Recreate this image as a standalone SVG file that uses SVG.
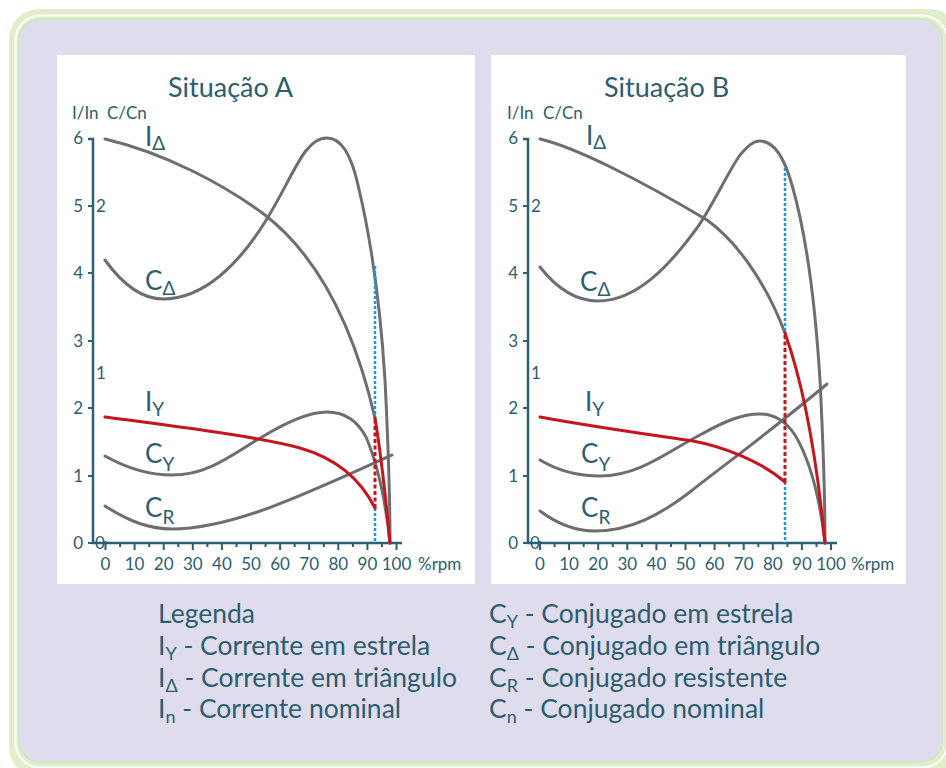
<svg xmlns="http://www.w3.org/2000/svg" width="946" height="768" viewBox="0 0 946 768">
<style>
text{font-family:Lato,"Noto Sans","Open Sans",sans-serif;fill:#2c5e70}
.ax{fill:none;stroke:#2b6075;stroke-width:2.5}
.tk{fill:none;stroke:#2b6075;stroke-width:2}
.num{font-size:17px}
.numr{font-size:17px;text-anchor:end}
.numc{font-size:17px;text-anchor:middle}
.title{font-size:27px}
.lbl{font-size:26px}
.sub{font-size:19px}
.lg{font-size:26.5px}
.lsub{font-size:18px}
.g{fill:none;stroke:#6e6e70;stroke-width:3;stroke-linecap:round}
.r{fill:none;stroke:#c4161c;stroke-width:3;stroke-linecap:round}
.rd{fill:none;stroke:#c4161c;stroke-width:3;stroke-dasharray:4 2.5}
.bd{fill:none;stroke:#1b9ad8;stroke-width:2.5;stroke-dasharray:3 2}
</style>
<g id="frame">
<rect x="9" y="9" width="950" height="768" rx="30" fill="#e1edcb"/>
<rect x="15.5" y="15.5" width="932" height="752" rx="25" fill="none" stroke="#ffffff" stroke-width="2"/>
<rect x="19" y="19" width="923" height="743" rx="21" fill="#dfdcee" stroke="#d3e6bd" stroke-width="2"/>
</g>
<g id="panelA">
<rect x="57" y="55" width="418" height="529" fill="#ffffff"/>
<text class="title" x="168" y="97">Situação A</text>
<text class="num" x="72" y="119">I/In</text>
<text class="num" x="107" y="119">C/Cn</text>
<path class="ax" d="M88,139H93V543H402"/>
<path class="tk" d="M88,206H93M88,273H93M88,341H93M88,408H93M88,476H93M88,543H93"/>
<path class="tk" d="M105.5,541V550M134.6,543V550M163.7,543V550M192.8,543V550M221.9,543V550M251,543V550M280.1,543V550M309.2,543V550M338.3,543V550M367.4,543V550M396.5,543V550"/>
<path class="tk" d="M120.1,543V547M149.2,543V547M178.3,543V547M207.4,543V547M236.5,543V547M265.6,543V547M294.7,543V547M323.8,543V547M352.9,543V547M382,543V547"/>
<text class="numr" x="83" y="144">6</text>
<text class="numr" x="83" y="212">5</text>
<text class="numr" x="83" y="279">4</text>
<text class="numr" x="83" y="347">3</text>
<text class="numr" x="83" y="414">2</text>
<text class="numr" x="83" y="482">1</text>
<text class="numr" x="83" y="549">0</text>
<text class="num" x="96" y="212">2</text>
<text class="num" x="96" y="379">1</text>
<text class="num" x="95" y="549">0</text>
<text class="numc" x="105.5" y="570">0</text>
<text class="numc" x="134.6" y="570">10</text>
<text class="numc" x="163.7" y="570">20</text>
<text class="numc" x="192.8" y="570">30</text>
<text class="numc" x="221.9" y="570">40</text>
<text class="numc" x="251" y="570">50</text>
<text class="numc" x="280.1" y="570">60</text>
<text class="numc" x="309.2" y="570">70</text>
<text class="numc" x="338.3" y="570">80</text>
<text class="numc" x="367.4" y="570">90</text>
<text class="numc" x="396.5" y="570">100</text>
<text class="num" x="418" y="570">%rpm</text>
<path class="g" d="M105,260C123,285 143,299 163,299C205,299 240,262 265,222C282,195 295,165 305,152C313,142 319,138 327,138C342,138 352,158 358,185C370,235 380,300 385,380C388,440 390,500 390,543"/>
<path class="g" d="M105,139C165,153 225,185 265,215C310,250 350,310 375,418"/>
<path class="g" d="M105,456C130,470 150,475 172,475C210,475 235,452 262,437C290,420 310,412 327,412C345,412 358,422 366,437C378,465 386,505 390,543"/>
<path class="g" d="M105,506C130,522 150,529 172,529C230,529 300,497 392,455"/>
<path class="bd" d="M375,266V418M375,508V543"/>
<path class="rd" d="M375,508V418"/>
<path class="r" d="M105,417C180,427 260,437 300,448C335,458 360,478 375,508"/>
<path class="r" d="M375,418C381,455 386,500 390,543"/>
<text class="lbl" x="145" y="146">I<tspan class="sub" dy="4">Δ</tspan></text>
<text class="lbl" x="145" y="290">C<tspan class="sub" dy="5">Δ</tspan></text>
<text class="lbl" x="145" y="411">I<tspan class="sub" dy="5">Y</tspan></text>
<text class="lbl" x="145" y="463">C<tspan class="sub" dy="8">Y</tspan></text>
<text class="lbl" x="145" y="517">C<tspan class="sub" dy="7">R</tspan></text>
</g>
<g id="panelB">
<rect x="491" y="55" width="415" height="529" fill="#ffffff"/>
<text class="title" x="604" y="97">Situação B</text>
<text class="num" x="507" y="119">I/In</text>
<text class="num" x="543" y="119">C/Cn</text>
<path class="ax" d="M523,139H528V543H837"/>
<path class="tk" d="M523,206H528M523,273H528M523,341H528M523,408H528M523,476H528M523,543H528"/>
<path class="tk" d="M540,541V550M569.1,543V550M598.2,543V550M627.3,543V550M656.4,543V550M685.5,543V550M714.6,543V550M743.7,543V550M772.8,543V550M801.9,543V550M831,543V550"/>
<path class="tk" d="M554.6,543V547M583.7,543V547M612.8,543V547M641.9,543V547M671,543V547M700.1,543V547M729.2,543V547M758.3,543V547M787.4,543V547M816.5,543V547"/>
<text class="numr" x="518" y="144">6</text>
<text class="numr" x="518" y="212">5</text>
<text class="numr" x="518" y="279">4</text>
<text class="numr" x="518" y="347">3</text>
<text class="numr" x="518" y="414">2</text>
<text class="numr" x="518" y="482">1</text>
<text class="numr" x="518" y="549">0</text>
<text class="num" x="531" y="212">2</text>
<text class="num" x="531" y="379">1</text>
<text class="num" x="530" y="549">0</text>
<text class="numc" x="540" y="570">0</text>
<text class="numc" x="569.1" y="570">10</text>
<text class="numc" x="598.2" y="570">20</text>
<text class="numc" x="627.3" y="570">30</text>
<text class="numc" x="656.4" y="570">40</text>
<text class="numc" x="685.5" y="570">50</text>
<text class="numc" x="714.6" y="570">60</text>
<text class="numc" x="743.7" y="570">70</text>
<text class="numc" x="772.8" y="570">80</text>
<text class="numc" x="801.9" y="570">90</text>
<text class="numc" x="831" y="570">100</text>
<text class="num" x="851" y="570">%rpm</text>
<path class="g" d="M540,267C558,290 578,301 598,301C637,301 670,265 697,228C713,205 728,172 740,155C748,146 753,141 760,141C775,141 785,160 792,185C805,230 815,300 820,380C823,440 825,500 825,543"/>
<path class="g" d="M540,139C575,147 640,180 707,220C735,240 765,280 785,333"/>
<path class="g" d="M540,460C560,472 580,476 600,476C640,476 670,450 700,435C725,421 742,414 760,414C775,414 787,423 795,435C810,460 820,500 825,543"/>
<path class="g" d="M540,511C560,526 578,531 595,531C630,531 660,515 690,492C720,468 760,440 827,384"/>
<path class="bd" d="M785,168V333M785,482V543"/>
<path class="rd" d="M785,482V333"/>
<path class="r" d="M540,417C600,428 660,436 693,441C720,446 760,460 785,482"/>
<path class="r" d="M785,333C800,375 815,440 825,543"/>
<text class="lbl" x="586" y="145">I<tspan class="sub" dy="4">Δ</tspan></text>
<text class="lbl" x="580" y="291">C<tspan class="sub" dy="5">Δ</tspan></text>
<text class="lbl" x="585" y="411">I<tspan class="sub" dy="5">Y</tspan></text>
<text class="lbl" x="581" y="463">C<tspan class="sub" dy="8">Y</tspan></text>
<text class="lbl" x="581" y="517">C<tspan class="sub" dy="7">R</tspan></text>
</g>
<g id="legend">
<text class="lg" x="158" y="623">Legenda</text>
<text class="lg" x="158" y="655">I<tspan class="lsub" dy="5">Y</tspan><tspan dy="-5"> - Corrente em estrela</tspan></text>
<text class="lg" x="158" y="687">I<tspan class="lsub" dy="5">Δ</tspan><tspan dy="-5"> - Corrente em triângulo</tspan></text>
<text class="lg" x="158" y="718">I<tspan class="lsub" dy="5">n</tspan><tspan dy="-5"> - Corrente nominal</tspan></text>
<text class="lg" x="489" y="623">C<tspan class="lsub" dy="5">Y</tspan><tspan dy="-5"> - Conjugado em estrela</tspan></text>
<text class="lg" x="489" y="655">C<tspan class="lsub" dy="5">Δ</tspan><tspan dy="-5"> - Conjugado em triângulo</tspan></text>
<text class="lg" x="489" y="687">C<tspan class="lsub" dy="5">R</tspan><tspan dy="-5"> - Conjugado resistente</tspan></text>
<text class="lg" x="489" y="718">C<tspan class="lsub" dy="5">n</tspan><tspan dy="-5"> - Conjugado nominal</tspan></text>
</g>
</svg>
